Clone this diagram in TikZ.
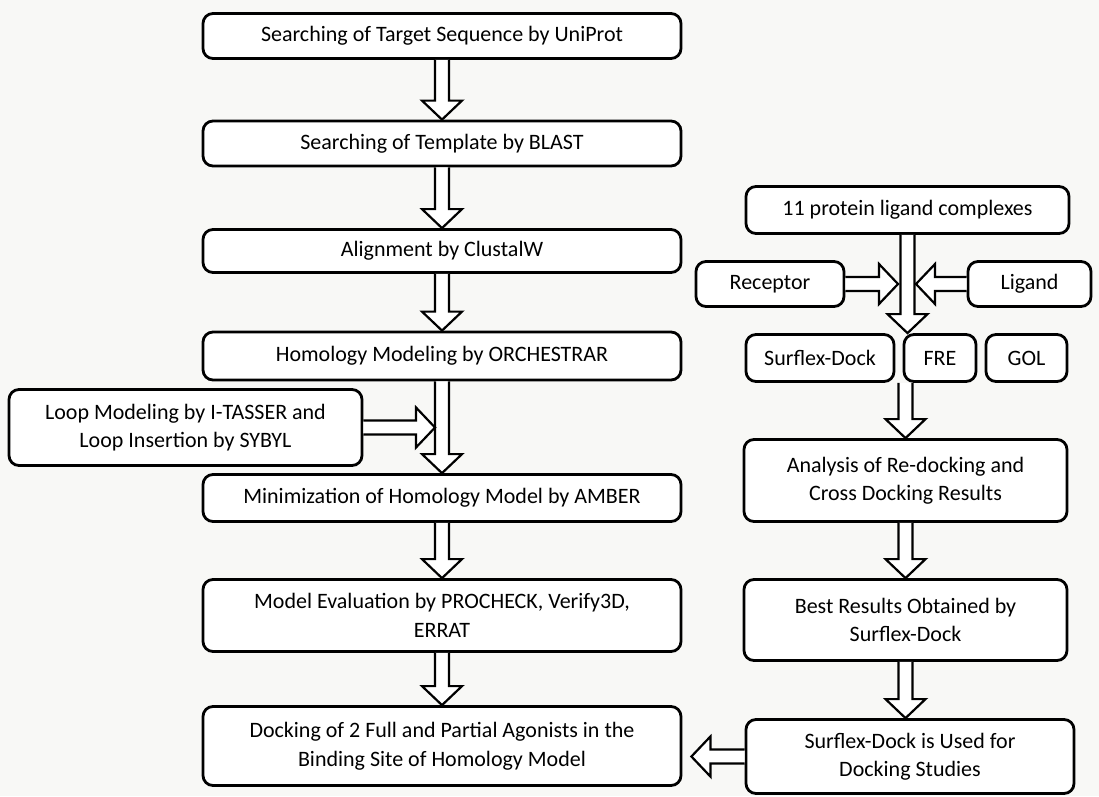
\documentclass[tikz,border=0pt]{standalone}
\usepackage{fontspec}
\setmainfont{Carlito}
\usepackage{tikz}
\usetikzlibrary{calc}
\definecolor{dfpaper}{RGB}{248,248,246}
\tikzstyle{box} = [draw, line width=2.8pt, rounded corners=10pt, fill=white, align=center, inner sep=0pt, font=\fontsize{22}{28.5}\selectfont]
\tikzstyle{lbox} = [box, minimum width=478pt]
\tikzstyle{rbox} = [box, minimum width=323pt]
\tikzstyle{hollow} = [draw, line width=2.2pt, fill=white, line join=miter]
% hollow block arrows, tail #1, tip #2
\newcommand{\arrdown}[2]{\draw[hollow] let \p1=(#1), \p2=(#2) in
  (\x1-7pt,\y1) -- (\x1-7pt,\y2+19pt) -- (\x1-20pt,\y2+19pt) -- (\x1,\y2)
  -- (\x1+20pt,\y2+19pt) -- (\x1+7pt,\y2+19pt) -- (\x1+7pt,\y1);}
\newcommand{\arrright}[2]{\draw[hollow] let \p1=(#1), \p2=(#2) in
  (\x1,\y1-7pt) -- (\x2-19pt,\y1-7pt) -- (\x2-19pt,\y1-20pt) -- (\x2,\y1)
  -- (\x2-19pt,\y1+20pt) -- (\x2-19pt,\y1+7pt) -- (\x1,\y1+7pt);}
\newcommand{\arrleft}[2]{\draw[hollow] let \p1=(#1), \p2=(#2) in
  (\x1,\y1-7pt) -- (\x2+19pt,\y1-7pt) -- (\x2+19pt,\y1-20pt) -- (\x2,\y1)
  -- (\x2+19pt,\y1+20pt) -- (\x2+19pt,\y1+7pt) -- (\x1,\y1+7pt);}

\begin{document}
\begin{tikzpicture}[x=1pt, y=-1pt]
\fill[dfpaper] (0,0) rectangle (1099,796);
\useasboundingbox (0,0) rectangle (1099,796);

% Homology modelling column
\node[lbox, minimum height=45pt] (search) at (442,36) {Searching of Target Sequence by UniProt};
\node[lbox, minimum height=45pt] (blast) at (442,143.5) {Searching of Template by BLAST};
\node[lbox, minimum height=43pt] (align) at (442,251) {Alignment by ClustalW};
\node[lbox, minimum height=48pt] (homol) at (442,356) {Homology Modeling by ORCHESTRAR};
\node[box, minimum width=353pt, minimum height=76pt] (loop) at (185.5,427.5) {Loop Modeling by I-TASSER and\\Loop Insertion by SYBYL};
\node[lbox, minimum height=47pt] (amber) at (442,498) {Minimization of Homology Model by AMBER};
\node[lbox, minimum height=72pt] (evalu) at (442,615.5) {Model Evaluation by PROCHECK, Verify3D,\\ERRAT};
\node[lbox, minimum height=79pt] (dock) at (442,746) {Docking of 2 Full and Partial Agonists in the\\Binding Site of Homology Model};

% Docking validation column
\node[rbox, minimum height=47pt] (cplx) at (907.5,210) {11 protein ligand complexes};
\node[box, minimum width=148pt, minimum height=45pt] (recep) at (770,284) {Receptor};
\node[box, minimum width=123pt, minimum height=45pt] (ligand) at (1029.5,284) {Ligand};
\node[box, minimum width=148pt, minimum height=47pt] (surflex) at (820,358) {Surflex-Dock};
\node[box, minimum width=72pt, minimum height=47pt] (fre) at (940,358) {FRE};
\node[box, minimum width=81pt, minimum height=47pt] (gol) at (1026.5,358) {GOL};
\node[rbox, minimum height=82pt] (anal) at (905.5,480.5) {Analysis of Re-docking and\\Cross Docking Results};
\node[rbox, minimum height=81pt] (best) at (905.5,620) {Best Results Obtained by\\Surflex-Dock};
\node[box, minimum width=328pt, minimum height=74pt] (used) at (910,756.5) {Surflex-Dock is Used for\\Docking Studies};

\coordinate (looptip) at (435,427.5);
\coordinate (rowtop) at ([xshift=-0.5pt]cplx.south |- fre.north);
\coordinate (rowbot) at (anal.north |- fre.south);
\coordinate (jleft) at (898,284);
\coordinate (jright) at (916,284);
\coordinate (docktip) at ([xshift=9pt]dock.east |- used.west);

% Arrows
\arrdown{search.south}{blast.north}
\arrdown{blast.south}{align.north}
\arrdown{align.south}{homol.north}
\arrdown{homol.south}{amber.north}
\arrright{loop.east}{looptip}
\arrdown{amber.south}{evalu.north}
\arrdown{evalu.south}{dock.north}

\arrdown{cplx.south}{rowtop}
\arrright{recep.east}{jleft}
\arrleft{ligand.west}{jright}
\arrdown{rowbot}{anal.north}
\arrdown{anal.south}{best.north}
\arrdown{best.south}{best.south |- used.north}
\arrleft{used.west}{docktip}
\end{tikzpicture}
\end{document}
